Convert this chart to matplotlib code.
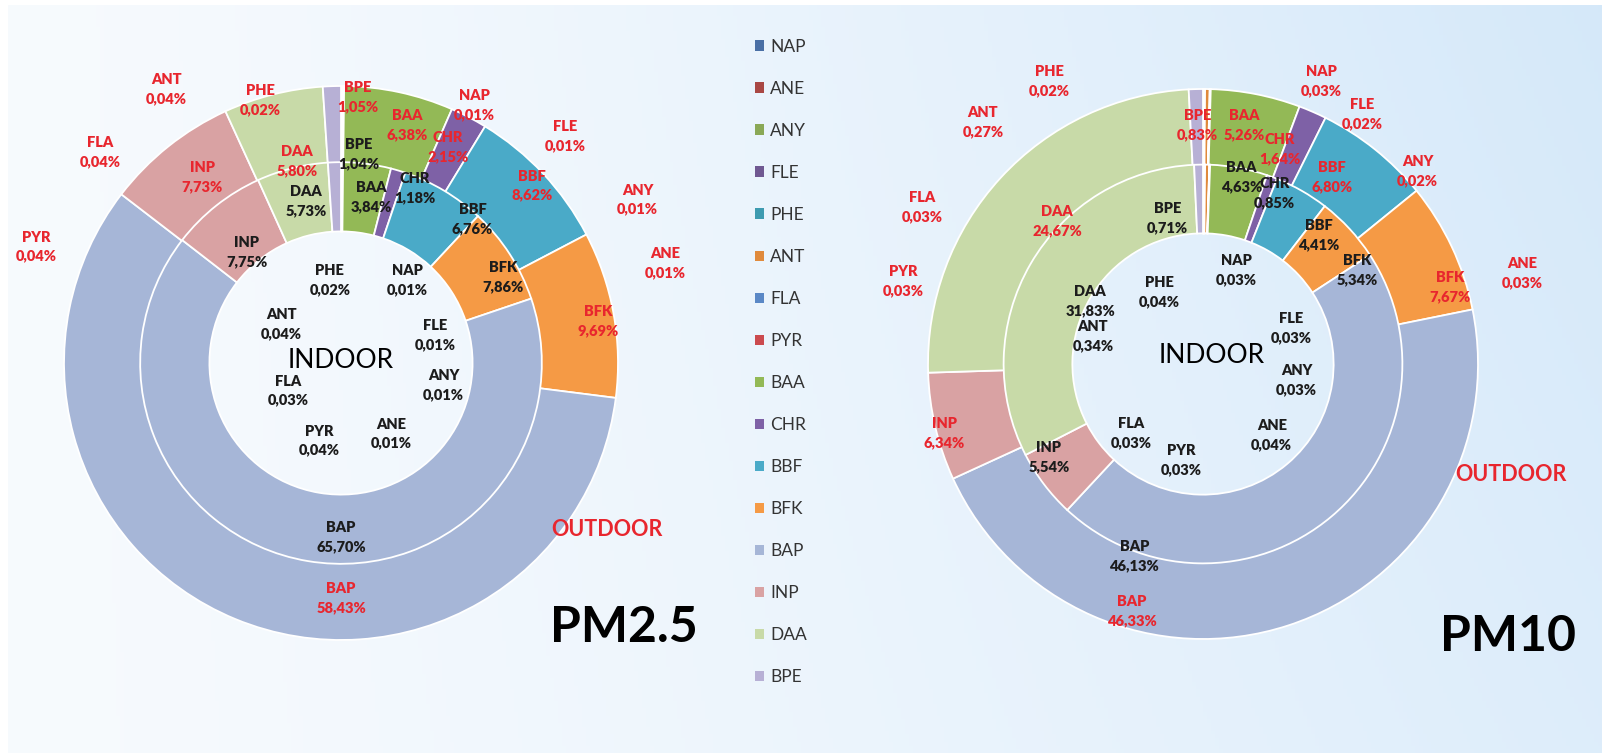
import numpy as np
import matplotlib
matplotlib.use('Agg')
import matplotlib.pyplot as plt
from matplotlib.patches import Patch

plt.rcParams['font.family'] = ['Lato', 'DejaVu Sans']

# PAH names (legend / slice order, clockwise from 12 o'clock)
names = ['NAP', 'ANE', 'ANY', 'FLE', 'PHE', 'ANT', 'FLA', 'PYR',
         'BAA', 'CHR', 'BBF', 'BFK', 'BAP', 'INP', 'DAA', 'BPE']
colors = ['#4A6FA5', '#A94744', '#8AA856', '#6F5891', '#3E9BB0', '#E08A3C',
          '#5A88C6', '#CB4A4E', '#93B956', '#7E61A6', '#4AAAC8', '#F59A45',
          '#A6B6D7', '#D9A2A3', '#C8DAA8', '#B7B0D5']

# PM2.5 (%)
pm25_outdoor = [0.01, 0.01, 0.01, 0.01, 0.02, 0.04, 0.04, 0.04,
                6.38, 2.15, 8.62, 9.69, 58.43, 7.73, 5.80, 1.05]
pm25_indoor = [0.01, 0.01, 0.01, 0.01, 0.02, 0.04, 0.03, 0.04,
               3.84, 1.18, 6.76, 7.86, 65.70, 7.75, 5.73, 1.04]

# PM10 (%)
pm10_outdoor = [0.03, 0.03, 0.02, 0.02, 0.02, 0.27, 0.03, 0.03,
                5.26, 1.64, 6.80, 7.67, 46.33, 6.34, 24.67, 0.83]
pm10_indoor = [0.03, 0.04, 0.03, 0.03, 0.04, 0.34, 0.03, 0.03,
               4.63, 0.85, 4.41, 5.34, 46.13, 5.54, 31.83, 0.71]

# label offsets from chart centre, in units of outer radius
pm25_out_pos = [(0.48, 0.93), (1.17, 0.36), (1.07, 0.59), (0.81, 0.82),
                (-0.29, 0.95), (-0.63, 0.99), (-0.87, 0.76), (-1.10, 0.42),
                (0.24, 0.86), (0.385, 0.78), (0.69, 0.64), (0.93, 0.15),
                (0.0, -0.85), (-0.50, 0.67), (-0.16, 0.73), (0.06, 0.96)]
pm25_in_pos = [(0.24, 0.30), (0.18, -0.255), (0.37, -0.08), (0.34, 0.10),
               (-0.04, 0.30), (-0.215, 0.14), (-0.19, -0.10), (-0.08, -0.28),
               (0.11, 0.60), (0.265, 0.63), (0.475, 0.52), (0.585, 0.31),
               (0.0, -0.63), (-0.34, 0.40), (-0.125, 0.585), (0.063, 0.755)]
pm10_out_pos = [(0.43, 1.03), (1.16, 0.33), (0.78, 0.70), (0.58, 0.91),
                (-0.56, 1.03), (-0.80, 0.88), (-1.02, 0.57), (-1.09, 0.30),
                (0.15, 0.87), (0.28, 0.78), (0.47, 0.68), (0.90, 0.28),
                (-0.26, -0.90), (-0.94, -0.25), (-0.53, 0.52), (-0.02, 0.87)]
pm10_in_pos = [(0.12, 0.34), (0.25, -0.26), (0.34, -0.06), (0.32, 0.13),
               (-0.16, 0.26), (-0.40, 0.10), (-0.26, -0.25), (-0.08, -0.35),
               (0.14, 0.68), (0.26, 0.62), (0.42, 0.47), (0.56, 0.34),
               (-0.25, -0.70), (-0.56, -0.34), (-0.41, 0.23), (-0.13, 0.53)]

W, H = 1608, 753
RED = '#E8262E'
DARK = '#1C1C1C'


def fmt(v):
    return ('%.2f' % v).replace('.', ',') + '%'


def draw_donut(ax, cx, cy, R, outdoor, indoor, out_pos, in_pos, title,
               indoor_off, outdoor_off, title_off):
    ax.pie(outdoor, radius=R, center=(cx, cy), colors=colors, startangle=90,
           counterclock=False,
           wedgeprops=dict(width=0.28 * R, edgecolor='white', linewidth=1.3))
    ax.pie(indoor, radius=0.725 * R, center=(cx, cy), colors=colors,
           startangle=90, counterclock=False,
           wedgeprops=dict(width=0.25 * R, edgecolor='white', linewidth=1.3))
    for n, v, p in zip(names, outdoor, out_pos):
        ax.text(cx + p[0] * R, cy + p[1] * R, n + '\n' + fmt(v), color=RED,
                ha='center', va='center', fontsize=10.5, fontweight='heavy',
                linespacing=1.55)
    for n, v, p in zip(names, indoor, in_pos):
        ax.text(cx + p[0] * R, cy + p[1] * R, n + '\n' + fmt(v), color=DARK,
                ha='center', va='center', fontsize=10.5, fontweight='heavy',
                linespacing=1.55)
    ax.text(cx + indoor_off[0] * R, cy + indoor_off[1] * R, 'INDOOR',
            color='black', ha='center', va='center', fontsize=19)
    ax.text(cx + outdoor_off[0] * R, cy + outdoor_off[1] * R, 'OUTDOOR',
            color=RED, ha='center', va='center', fontsize=15.5,
            fontweight='bold')
    ax.text(cx + title_off[0] * R, cy + title_off[1] * R, title,
            color='black', ha='center', va='center', fontsize=36,
            fontweight='bold')


fig = plt.figure(figsize=(W / 100, H / 100), dpi=100, facecolor='white')
ax = fig.add_axes([0, 0, 1, 1])

# light blue gradient background
gx = np.linspace(0, 1, 400)
gy = np.linspace(0, 1, 200)
X, Y = np.meshgrid(gx, gy)
t = np.clip(X ** 1.3 * (0.75 + 0.25 * Y), 0, 1)
c0 = np.array([0.968, 0.982, 0.996])
c1 = np.array([0.835, 0.912, 0.978])
img = c0 + (c1 - c0) * t[..., None]
ax.imshow(img, extent=[8, W - 6, 0, H - 5], origin='lower', aspect='auto',
          zorder=0)

draw_donut(ax, 341, 390, 277, pm25_outdoor, pm25_indoor,
           pm25_out_pos, pm25_in_pos, 'PM2.5',
           (0.0, 0.01), (0.96, -0.60), (1.02, -0.955))
draw_donut(ax, 1203, 389, 275, pm10_outdoor, pm10_indoor,
           pm10_out_pos, pm10_in_pos, 'PM10',
           (0.03, 0.03), (1.12, -0.40), (1.11, -0.99))

handles = [Patch(facecolor=c, edgecolor='none') for c in colors]
ax.legend(handles, names, loc='upper left',
          bbox_to_anchor=(746 / W, (H - 30) / H), bbox_transform=fig.transFigure,
          frameon=False, fontsize=12.5, handlelength=0.55, handleheight=0.55,
          handletextpad=0.35, labelspacing=1.50, borderpad=0,
          labelcolor='#333333')

ax.set_xlim(0, W)
ax.set_ylim(0, H)
ax.set_aspect('auto')
ax.axis('off')

fig.savefig('out.png', dpi=100, facecolor='white')
